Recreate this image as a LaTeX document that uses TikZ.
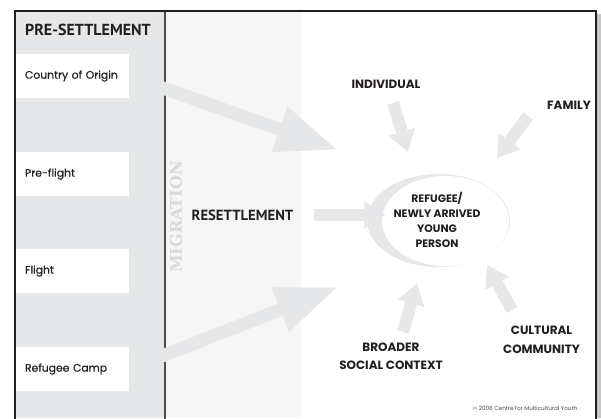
\documentclass[tikz,border=0pt]{standalone}
\usepackage{fontspec}
\setmainfont{Poppins}
\newfontfamily\stagefont{Poppins}[FakeBold=0.6]
\newfontfamily\humfont{PT Sans}
\newfontfamily\slabfont{DejaVu Serif}
\usetikzlibrary{arrows.meta, positioning, shapes.geometric, calc}

\definecolor{colgray}{HTML}{E6E7E8}
\definecolor{palegray}{HTML}{F6F6F6}
\definecolor{inkblack}{HTML}{231F20}
\definecolor{miggray}{HTML}{D8D9DA}

\tikzset{
  stagebox/.style={fill=white, minimum width=113pt, minimum height=44pt, text width=95pt,
    align=left, inner sep=0pt, font=\stagefont\fontsize{10.8}{12}\selectfont, text=inkblack},
  factor/.style={font=\fontsize{12}{18.5}\selectfont\bfseries, text=inkblack, align=center, inner sep=0pt},
  fatarrow/.style={draw=colgray, line width=13pt, -{Triangle[length=62pt,width=44pt]}},
  thinarrow/.style={draw=colgray, line width=12pt, -{Triangle[length=21pt,width=26pt]}},
}

\begin{document}
\begin{tikzpicture}[x=1pt, y=-1pt]
  \useasboundingbox (0,0) rectangle (601,418);
  \fill[white] (0,0) rectangle (601,418);

  % Columns
  \fill[colgray] (15,11) rectangle (165,418);
  \fill[palegray] (165,11) rectangle (301,418);
  \fill[black!22] (597,14) rectangle (601,418);
  \draw[line width=1.2pt, black!70] (165,11) -- (165,419);
  \draw[line width=1.4pt, inkblack] (15,419) -- (15,11) -- (596,11) -- (596,419);

  % Pre-settlement stages
  \node[anchor=west, inner sep=0pt, text=inkblack, font=\humfont\fontsize{16}{18}\selectfont\bfseries]
    (presettle) at (25,30) {PRE-SETTLEMENT};
  \coordinate (origintip) at (338,150);
  \coordinate (camptip) at (338,287);
  \path (72.5,76) coordinate (originpos) (72.5,369) coordinate (camppos);
  \draw[fatarrow] (129,76) -- (origintip);
  \draw[fatarrow] (129,369) -- (camptip);
  \node[stagebox] (origin) at (originpos) {Country of Origin};
  \node[stagebox] (preflight) at (72.5,174) {Pre-flight};
  \node[stagebox] (flight) at (72.5,271) {Flight};
  \node[stagebox] (camp) at (camppos) {Refugee Camp};

  % Migration / resettlement
  \node[rotate=90, text=miggray, inner sep=0pt, font=\slabfont\fontsize{16}{18}\selectfont\bfseries]
    (migration) at (176,217) {MIGRATION};
  \node[inner sep=0pt, text=inkblack, font=\humfont\fontsize{14.7}{17}\selectfont\bfseries]
    (reset) at (242.5,215) {RESETTLEMENT};

  % Young person
  \fill[colgray] (438.5,220.5) ellipse [x radius=71.5pt, y radius=46.5pt];
  \fill[white] (445.5,221) ellipse [x radius=63.5pt, y radius=45pt];
  \node[ellipse, minimum width=143pt, minimum height=93pt, inner sep=0pt, align=center,
    text=inkblack, font=\fontsize{10.8}{15}\selectfont\bfseries]
    (person) at (437,219.5) {REFUGEE/\\NEWLY ARRIVED\\YOUNG\\PERSON};
  \draw[thinarrow] ([xshift=20pt]reset.east) -- ([xshift=20pt]reset.east -| person.west);

  % Influences
  \node[factor] (indiv) at (386,84) {INDIVIDUAL};
  \node[factor] (family) at (569,105) {FAMILY};
  \node[factor] (broader) at (391,356.5) {BROADER\\SOCIAL CONTEXT};
  \node[factor] (cultural) at (541.5,340) {CULTURAL\\COMMUNITY};
  \coordinate (indivtail) at (393,103);
  \coordinate (indivtip) at (408,152);
  \coordinate (familytail) at (528,116);
  \coordinate (familytip) at (497,158);
  \coordinate (broadertail) at (403,332);
  \coordinate (broadertip) at (417,283);
  \coordinate (culturaltail) at (512,310);
  \coordinate (culturaltip) at (487,265);
  \draw[thinarrow] (indivtail) -- (indivtip);
  \draw[thinarrow] (familytail) -- (familytip);
  \draw[thinarrow] (broadertail) -- (broadertip);
  \draw[thinarrow] (culturaltail) -- (culturaltip);

  \node[text=black!70, inner sep=0pt, font=\fontsize{5.7}{7}\selectfont]
    (credit) at (525,408) {\copyright{} 2008 Centre for Multicultural Youth};
\end{tikzpicture}
\end{document}
